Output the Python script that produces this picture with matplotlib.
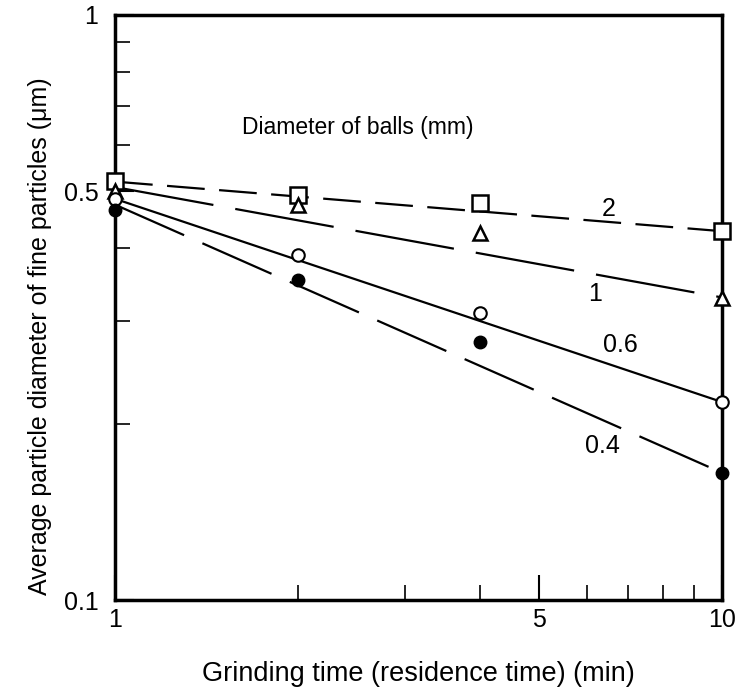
import matplotlib
matplotlib.use("Agg")
import matplotlib.pyplot as plt
from matplotlib.ticker import FixedLocator, NullFormatter

plt.rcParams["font.family"] = ["Liberation Sans", "DejaVu Sans"]

# grinding time (min)
time = [1, 2, 4, 10]

# measured average diameters (um) per ball diameter
d_2mm = [0.52, 0.492, 0.477, 0.427]
d_1mm = [0.50, 0.473, 0.424, 0.328]
d_06mm = [0.485, 0.389, 0.309, 0.218]
d_04mm = [0.465, 0.352, 0.276, 0.165]

# fitted lines, value at t=1 and t=10
fit_time = [1, 10]
fit_2mm = [0.519, 0.427]
fit_1mm = [0.508, 0.329]
fit_06mm = [0.485, 0.218]
fit_04mm = [0.474, 0.165]

curve_labels = ["2", "1", "0.6", "0.4"]
label_pos = [(6.5, 0.466), (6.17, 0.334), (6.81, 0.273), (6.35, 0.183)]

fig = plt.figure(figsize=(7.39, 6.87), dpi=100)
ax = fig.add_axes([0.1556, 0.1266, 0.8214, 0.8516])
ax.set_xscale("log")
ax.set_yscale("log")

ax.plot(fit_time, fit_2mm, color="black", lw=1.6, dashes=(17, 6.5))
ax.plot(fit_time, fit_1mm, color="black", lw=1.6, dashes=(45, 10))
ax.plot(fit_time, fit_06mm, color="black", lw=1.6)
ax.plot(fit_time, fit_04mm, color="black", lw=1.6, dashes=(34, 9))

mk = dict(ls="none", clip_on=False, zorder=4)
ax.plot(time, d_2mm, marker="s", ms=11, mfc="white", mec="black", mew=1.8, **mk)
ax.plot(time, d_1mm, marker="^", ms=10, mfc="white", mec="black", mew=1.8, **mk)
ax.plot(time, d_06mm, marker="o", ms=9, mfc="white", mec="black", mew=1.5, **mk)
ax.plot(time, d_04mm, marker="o", ms=9, mfc="black", mec="black", **mk)

for lab, (x, y) in zip(curve_labels, label_pos):
    ax.text(x, y, lab, fontsize=18, ha="center", va="center")

ax.text(2.51, 0.641, "Diameter of balls (mm)", fontsize=16.5, ha="center", va="center")

ax.set_xlim(1, 10)
ax.set_ylim(0.1, 1)
ax.xaxis.set_major_locator(FixedLocator([1, 5, 10]))
ax.xaxis.set_minor_locator(FixedLocator([2, 3, 4, 6, 7, 8, 9]))
ax.set_xticklabels(["1", "5", "10"])
ax.xaxis.set_minor_formatter(NullFormatter())
ax.yaxis.set_major_locator(FixedLocator([0.1, 0.5, 1]))
ax.yaxis.set_minor_locator(FixedLocator([0.2, 0.3, 0.4, 0.6, 0.7, 0.8, 0.9]))
ax.set_yticklabels(["0.1", "0.5", "1"])
ax.yaxis.set_minor_formatter(NullFormatter())

ax.tick_params(which="both", direction="in", labelsize=18, color="black")
ax.tick_params(which="major", length=14, width=1.5)
ax.tick_params(which="minor", length=11, width=1.2)
ax.tick_params(axis="x", which="major", length=18, pad=6)
ax.tick_params(axis="y", which="major", pad=12)
for s in ax.spines.values():
    s.set_linewidth(2.5)

ax.set_xlabel("Grinding time (residence time) (min)", fontsize=19.5)
ax.set_ylabel("Average particle diameter of fine particles (\u03bcm)", fontsize=18)
ax.xaxis.set_label_coords(0.499, -0.105)
ax.yaxis.set_label_coords(-0.103, 0.451)

fig.savefig("out.png", dpi=100)
